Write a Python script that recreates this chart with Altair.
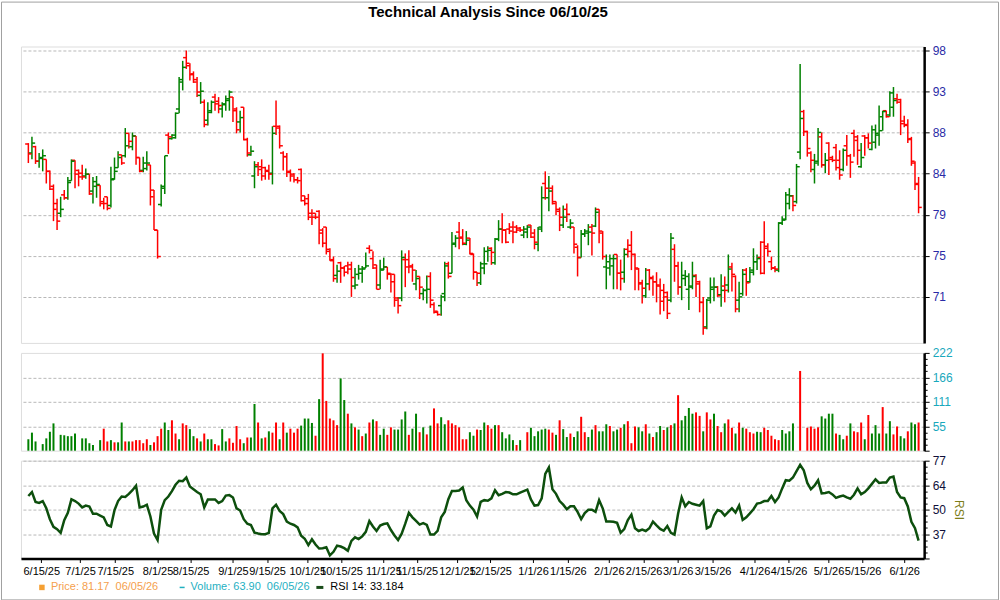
import altair as alt
import pandas as pd

# ---------------- data ----------------
opens = [
    86.8,85.8,86.5,84.9,85.3,85.1,83.8,82.2,80.4,79.4,
    81.3,81.0,82.8,85.0,83.9,83.6,83.3,83.5,81.7,82.2,
    82.3,80.6,81.1,80.2,83.0,84.2,85.6,85.5,88.0,86.5,
    87.7,85.3,83.9,84.1,84.5,81.8,77.7,80.3,82.0,87.8,
    87.4,87.5,
    90.8,94.0,97.0,96.0,95.0,94.3,92.4,91.6,89.5,90.6,
    92.2,91.7,90.8,91.3,92.0,92.2,90.8,89.3,91.0,87.3,
    85.6,83.3,84.5,84.3,84.2,83.8,83.6,88.8,88.8,85.8,
    85.4,83.8,83.5,82.9,84.0,81.2,80.9,79.4,79.4,79.6,
    77.7,78.0,
    75.6,74.8,73.3,74.5,74.0,74.2,74.3,72.3,73.4,73.5,
    74.0,75.9,74.9,74.3,72.4,73.8,74.1,73.4,73.4,71.2,
    71.2,74.8,74.8,74.2,72.5,73.2,71.6,71.9,73.2,70.6,
    70.0,70.5,71.6,74.4,73.5,76.4,77.5,77.0,76.3,76.9,
    75.3,73.6,72.6,74.0,75.6,75.9,74.5,76.8,77.8,77.7,
    77.8,78.0,78.0,77.9,77.2,77.5,78.2,77.4,76.3,78.0,
    82.5,81.0,82.0,80.6,79.6,78.2,79.8,78.0,78.0,76.0,
    75.0,77.3,77.4,78.0,78.1,79.8,77.4,74.1,74.0,74.2,
    75.3,73.5,
    73.6,75.8,76.2,75.3,73.9,72.6,71.4,73.8,73.1,72.7,
    72.3,71.9,71.3,71.0,75.8,74.2,72.2,73.0,72.0,72.2,
    73.3,72.7,70.8,68.6,71.2,72.0,72.2,71.5,72.3,72.4,
    74.1,73.2,71.0,71.6,73.8,72.7,73.8,74.6,75.0,76.5,
    76.1,
    74.6,74.0,73.8,78.4,78.8,80.4,81.2,80.6,85.9,90.5,
    88.2,85.8,84.0,84.9,87.6,84.5,86.9,85.3,86.4,85.0,
    84.0,86.6,85.5,88.0,87.2,84.3,87.7,87.5,86.2,87.0,
    87.8,89.9,90.6,90.1,91.0,92.0,91.9,89.4,88.9,87.4,
    84.7,82.5,
]
highs = [
    86.9,87.6,86.6,85.8,86.2,85.1,83.9,82.4,80.9,81.1,
    81.8,83.2,85.1,85.0,84.0,84.5,84.1,83.5,83.2,83.3,
    82.3,81.0,81.1,84.3,85.3,86.0,85.6,88.6,88.0,88.1,
    87.7,85.3,85.4,86.0,84.5,81.8,77.7,82.4,85.5,88.1,
    87.9,90.4,
    94.6,96.6,97.9,96.3,95.3,94.6,94.0,91.9,91.6,91.8,
    92.6,92.2,91.6,92.4,93.0,92.2,91.0,90.6,91.0,87.5,
    86.6,84.9,84.8,85.1,84.3,84.5,88.8,91.8,88.9,86.0,
    85.8,84.0,83.6,83.2,84.1,81.2,81.4,79.8,79.4,79.7,
    77.9,78.0,
    75.9,75.1,74.3,74.6,74.2,74.6,74.6,74.0,74.3,74.2,
    75.5,76.2,75.6,74.3,74.8,75.0,74.1,73.5,73.4,71.3,
    75.7,75.4,75.7,74.4,73.8,73.2,72.1,73.3,73.6,70.8,
    70.0,71.5,74.6,74.6,77.5,77.2,78.5,77.8,77.6,76.9,
    75.4,73.6,74.6,76.0,76.1,76.0,76.9,78.7,79.4,77.8,
    78.4,78.6,78.2,78.0,78.1,78.2,78.2,77.8,78.0,82.2,
    83.8,83.3,82.3,80.6,80.0,80.2,80.4,78.8,78.0,76.2,
    77.7,77.8,78.3,78.3,80.0,79.8,77.6,75.3,75.3,75.3,
    75.3,74.8,
    75.9,76.8,77.6,75.4,74.0,72.9,74.0,73.9,73.3,73.6,
    73.0,72.5,71.8,77.4,76.3,74.6,74.6,73.8,73.5,74.6,
    73.4,72.8,71.3,71.1,73.1,73.1,72.3,73.4,73.2,75.3,
    74.5,73.3,72.7,73.9,74.0,74.1,75.9,75.3,76.6,78.6,
    76.4,
    75.1,74.2,78.5,79.1,81.6,82.0,81.3,84.6,96.2,90.7,
    88.3,86.0,85.7,88.6,88.1,85.8,87.0,85.5,86.8,86.1,
    86.3,87.8,85.7,88.4,87.8,86.9,87.8,88.0,88.9,89.0,
    91.2,90.6,90.6,92.9,93.4,92.6,92.0,90.0,89.6,87.6,
    84.9,83.2,
]
lows = [
    84.7,85.1,84.6,84.2,83.8,82.5,81.8,78.6,77.7,79.0,
    80.8,80.8,82.8,82.0,82.2,82.9,83.0,81.3,80.4,81.0,
    80.1,79.8,79.7,80.0,82.9,84.2,84.5,85.3,86.3,86.1,
    84.5,83.7,83.7,83.9,80.2,77.7,74.9,80.1,81.4,85.7,
    87.3,87.4,
    90.3,93.0,95.6,94.2,93.9,92.2,91.4,88.7,88.9,90.3,
    90.6,90.3,89.8,90.6,90.6,89.3,88.0,88.1,87.2,85.4,
    85.5,82.0,83.3,82.8,82.9,82.9,82.4,87.8,86.3,83.9,
    83.2,82.7,82.6,82.5,80.6,80.2,78.7,78.2,78.8,76.3,
    76.0,75.3,
    74.7,72.7,72.6,72.6,73.2,73.4,71.3,72.0,72.9,72.6,
    74.0,75.4,73.9,72.0,72.0,73.8,72.9,71.7,70.4,69.8,
    70.9,72.2,73.5,72.7,71.9,71.1,71.0,70.7,70.3,69.8,
    69.6,69.6,70.9,73.0,73.5,76.0,75.8,76.2,76.2,75.3,
    72.9,72.3,72.4,73.4,74.6,74.3,74.3,76.6,76.4,76.4,
    77.3,76.4,77.4,77.5,76.9,76.9,76.9,75.8,75.6,77.5,
    80.8,79.6,80.3,79.2,77.6,77.9,78.5,77.8,75.4,73.2,
    75.0,77.0,76.2,75.2,78.0,76.4,74.8,72.0,73.3,72.0,
    72.0,71.9,
    72.6,75.0,73.8,71.9,71.9,70.7,71.2,71.9,71.4,70.8,
    69.7,70.0,69.3,70.8,72.7,71.5,71.0,72.3,70.1,72.0,
    71.3,69.9,67.9,68.4,70.7,70.9,71.3,70.4,70.8,71.7,
    71.8,69.9,69.9,71.4,71.4,72.6,73.3,73.8,73.4,73.4,
    75.1,
    73.8,73.6,73.6,78.2,78.7,79.8,79.6,80.4,85.1,87.7,
    85.4,83.7,82.5,84.4,84.2,83.6,83.4,84.8,83.9,82.9,
    83.8,84.4,83.1,85.4,84.5,84.2,85.5,86.3,86.1,86.3,
    86.6,88.3,89.8,89.9,89.9,91.4,87.8,88.7,86.9,84.4,
    81.8,79.4,
]
closes = [
    85.7,86.9,84.9,85.2,85.5,83.8,81.9,79.8,78.6,79.8,
    81.0,82.6,84.9,83.5,83.2,83.2,83.5,81.4,82.7,82.4,
    80.4,80.4,79.9,82.9,83.8,85.3,84.7,86.6,87.1,87.7,
    85.3,83.8,84.7,84.7,81.1,77.7,75.1,82.2,85.5,87.6,
    87.8,90.3,
    94.3,95.8,96.3,94.9,94.0,92.8,92.9,89.0,90.4,91.6,
    91.4,91.2,91.4,91.8,92.8,90.6,88.4,89.8,87.3,85.8,
    86.0,84.3,84.0,83.3,83.9,83.5,88.0,88.6,86.6,85.4,
    83.7,83.3,82.9,82.8,80.7,80.4,79.0,79.0,79.0,77.4,
    76.4,75.8,
    74.7,73.0,73.7,74.0,73.6,73.9,73.1,72.4,73.9,73.9,
    74.2,75.7,74.0,72.0,73.9,74.1,73.5,72.7,71.0,70.5,
    75.0,74.1,74.1,73.8,73.0,72.2,71.9,72.0,71.0,69.9,
    69.7,71.3,74.2,73.2,76.3,76.9,76.9,76.4,76.7,75.4,
    73.6,73.5,74.4,74.4,75.7,75.5,76.8,77.8,77.7,76.5,
    77.6,77.5,77.7,77.7,77.8,78.0,77.0,76.5,77.8,81.0,
    82.0,81.7,80.4,79.8,79.0,79.0,79.3,78.4,76.3,75.0,
    77.3,77.6,77.5,77.4,79.5,77.6,75.1,74.6,74.9,74.9,
    73.5,73.0,
    75.3,75.6,75.3,74.0,72.5,72.1,72.5,73.0,72.7,72.4,
    70.9,71.7,69.8,76.9,74.2,72.2,73.3,73.2,72.3,73.2,
    72.5,70.8,68.5,71.0,72.2,72.2,71.4,71.9,71.9,73.9,
    73.4,70.2,71.3,73.4,72.6,73.6,74.6,74.9,73.5,75.9,
    75.6,
    74.0,73.9,78.4,78.7,81.3,81.2,80.2,84.3,89.7,88.2,
    86.3,85.0,84.7,88.1,84.5,85.0,85.1,85.0,84.2,83.4,
    86.1,85.5,84.8,87.6,86.1,85.3,87.5,86.9,88.4,88.0,
    88.3,90.5,89.9,92.7,91.8,91.6,89.1,89.0,87.3,84.9,
    82.4,80.0,
]
volumes = [
    26,41,21,0,15,28,43,62,0,36, 35,33,33,39,0,28,28,17,13,0,
    24,50,21,24,19,19,64,21,21,21, 24,24,17,26,13,19,33,50,64,47,
    69,39,
    26,62,58,49,33,28,21,39, 26,26,15,12,49,21,28,18,56,26,
    17,30,30,106,64,28,30,44,41,64, 26,64,41,50,41,50,57,73,73,63,
    34,117,221,
    113,73,69,58,164,115,84, 62,53,48,33,39,64,71,67,36,50,
    36,53,48,48,71,89,36,50,84,42, 53,37,57,96,62,76,60,69,62,58,
    53,26,26,42,34,
    48,47,64,58,50, 58,58,42,28,37,24,13,24,0,42,
    52,33,44,48,50,48,41,36,69,49, 31,39,31,44,77,42,31,48,58,44,
    44,60,56,44,48,52,60,
    67,17,55, 53,44,60,39,31,42,56,47,53,58,
    62,126,69,79,97,84,87,79,44,87, 71,84,56,42,62,71,52,39,64,52,
    50,42,39,43,42,52,47,34,
    26,24, 47,39,44,62,0,181,0,52,55,50,
    53,78,73,84,84,39,36,26,34,62, 44,42,64,26,81,39,58,39,99,39,
    67,37,55,33,28,44,64,60,64,
]
volume_sides = (
    "GGGGGGGGGG" "GGGGGGGGGG" "GRRGRGGRGR" "RRRRGRRRGG" "RR"
    "GRRGGRGR" "GGRRGGRRRR" "GRGGRGRGRR" "GRGRRRGGGG" "RGR"
    "RRRRGGR" "GRGRGRGRGG" "RRGGGGRGGR" "GRGRRGGRRR" "RRRGG"
    "RGGRR" "GRGGGGRGGR" "GGGGGRRGRG" "GRGGRRGGRG" "GGRGGRG"
    "RRR" "GGRGRGGRGR" "GRGGGGRRGR" "RGRRGRRGRG" "RRRGGRRR"
    "RR" "GGGGGRRRRR" "RGGGGRGGRG" "RRRGRGGGRG" "GRRGGRGGR"
)
rsi = [
    57.8,60.0,54.5,54.0,55.0,51.0,45.0,40.8,39.5,37.5,
    44.5,48.5,56.0,55.0,53.6,51.5,52.5,52.0,48.0,48.0,
    47.0,46.0,41.8,41.0,50.0,55.0,57.5,57.3,59.0,61.0,
    63.5,51.5,52.0,53.0,46.5,37.1,33.5,50.2,55.5,57.5,
    60.5,64.0,
    66.2,66.0,68.0,63.0,61.5,60.0,58.8,51.5,55.9,55.9,
    55.9,54.0,55.0,58.0,58.3,57.0,51.0,49.8,45.0,42.5,
    41.8,37.6,37.1,36.7,36.7,37.4,51.0,53.0,49.5,47.8,
    43.7,42.5,41.8,40.5,35.8,34.2,30.7,33.9,31.0,28.8,
    29.0,29.5,
    25.0,27.0,30.4,29.9,29.0,27.6,33.0,35.0,34.0,35.5,
    38.0,44.0,41.0,38.5,41.5,42.3,42.7,39.0,36.0,33.5,
    37.0,42.5,48.5,46.0,44.0,42.0,42.8,41.8,36.5,36.5,
    38.5,46.0,49.0,56.0,60.6,60.6,60.8,62.5,55.5,52.5,
    50.2,
    46.5,54.5,55.5,55.2,56.5,61.0,58.2,59.0,60.0,59.7,
    58.7,58.7,59.7,60.5,61.3,55.9,52.5,52.8,56.5,70.0,
    73.5,61.5,59.0,55.0,53.0,50.5,52.1,52.1,49.0,45.0,
    48.4,50.2,50.2,49.0,55.5,51.0,43.7,43.7,43.6,43.0,
    37.5,39.5,
    44.5,47.5,40.0,38.5,39.3,38.5,40.0,43.7,41.6,39.6,
    38.6,41.2,37.5,36.5,48.0,57.0,52.1,54.5,53.5,53.0,
    52.5,55.0,40.0,41.0,47.0,50.0,49.3,47.0,49.0,51.0,
    48.7,52.5,44.6,46.0,48.2,50.5,53.6,54.0,55.0,55.0,
    57.8,
    54.5,57.0,62.0,66.5,66.2,68.0,71.5,75.0,72.0,65.0,
    61.5,63.5,66.5,59.3,59.5,60.0,58.7,56.8,57.5,58.0,
    57.0,56.3,58.5,62.0,58.7,60.0,62.0,64.5,67.0,65.0,
    65.3,65.3,68.0,68.5,60.0,57.0,56.6,52.0,43.5,40.0,
    33.2,
]
# x-axis tick positions (bar index) and their labels
date_tick_pos = [3.6, 14.4, 24.2, 36.0, 45.2, 57.0, 66.5, 77.7, 87.1, 98.9,
                 108.2, 119.4, 128.6, 140.6, 150.3, 161.7, 171.4, 180.9, 190.6,
                 202.3, 211.8, 222.9, 232.4, 244.0]
date_tick_labels = ["6/15/25", "7/1/25", "7/15/25", "8/1/25", "8/15/25", "9/1/25",
                    "9/15/25", "10/1/25", "10/15/25", "11/1/25", "11/15/25",
                    "12/1/25", "12/15/25", "1/1/26", "1/15/26", "2/1/26", "2/15/26",
                    "3/1/26", "3/15/26", "4/1/26", "4/15/26", "5/1/26", "5/15/26",
                    "6/1/26"]
price_ticks = [71.3, 75.17, 79.25, 83.55, 88.08, 92.86, 97.9]
title_text = "Technical Analysis Since 06/10/25"
legend_price = "Price: 81.17\u00a0\u00a006/05/26"
legend_volume = "Volume: 63.90\u00a0\u00a006/05/26"
legend_rsi = "RSI 14: 33.184"

# ---------------- build table ----------------
lens = [len(opens), len(highs), len(lows), len(closes), len(volumes), len(volume_sides), len(rsi)]
n = min(lens)
df = pd.DataFrame({
    "i": list(range(n)),
    "o": opens[:n], "h": highs[:n], "l": lows[:n], "c": closes[:n],
    "v": volumes[:n], "vs": list(volume_sides[:n]), "rsi": rsi[:n],
})
df["dir"] = ["up" if c >= o else "down" for o, c in zip(df["o"], df["c"])]
df["v0"] = 0.0
vol_df = df[df["v"] > 0]

FONT = "Liberation Sans"
W = 905
xscale = alt.Scale(domain=[-2.06, 249.55], nice=False, zero=False)
Xh = alt.X("i:Q", scale=xscale, axis=None)
pcolor = alt.Color("dir:N", scale=alt.Scale(domain=["up", "down"], range=["#008000", "#ff0000"]), legend=None)

# ---------------- price panel ----------------
pscale = alt.Scale(type="log", domain=[67.2, 98.4], nice=False, zero=False)
paxis = alt.Axis(orient="right", values=price_ticks, labelExpr="format(datum.value, '.0f')",
                 grid=True, gridDash=[3, 2], gridColor="#b8b8b8", gridWidth=1,
                 domainColor="#000000", domainWidth=2.5, tickColor="#000000", tickSize=5,
                 labelColor="#2a2aa6", labelFontSize=12, labelFont=FONT, labelPadding=3,
                 title=None)
pbase = alt.Chart(df)
hl = pbase.mark_rule(strokeWidth=1.5).encode(
    x=Xh, y=alt.Y("l:Q", scale=pscale, axis=paxis), y2="h:Q", color=pcolor)
op = pbase.mark_rule(strokeWidth=1.5, xOffset=-3.2, x2Offset=0).encode(
    x=Xh, x2="i:Q", y=alt.Y("o:Q", scale=pscale), color=pcolor)
cl = pbase.mark_rule(strokeWidth=1.5, xOffset=0, x2Offset=3.2).encode(
    x=Xh, x2="i:Q", y=alt.Y("c:Q", scale=pscale), color=pcolor)

one = pd.DataFrame({"a": [0]})
border = alt.Chart(one).mark_rect(fill="#ffffff", fillOpacity=0, stroke="#a0a0a0", strokeWidth=1).encode(
    x=alt.value(-19.5), x2=alt.value(979.5), y=alt.value(-44.5), y2=alt.value(554.5))
title_mark = alt.Chart(one).mark_text(text=title_text, font=FONT, fontSize=15, fontWeight="bold",
                                      color="#000000", align="center", baseline="middle").encode(
    x=alt.value(468), y=alt.value(-35))
extra = []
if len(set(lens)) != 1:
    extra.append(alt.Chart(one).mark_text(text="LENGTHS " + str(lens), color="magenta", fontSize=20).encode(
        x=alt.value(400), y=alt.value(150)))
price = alt.layer(border, hl, op, cl, title_mark, *extra).properties(width=W, height=297)

# ---------------- volume panel ----------------
vmajor = "abs(datum.value/55.5 - round(datum.value/55.5)) < 0.01"
vol_ticks = [13.875 * k for k in range(17)]
vscale = alt.Scale(domain=[0, 222], nice=False, zero=True)
vaxis = alt.Axis(orient="right", values=vol_ticks,
                 labelExpr=f"({vmajor}) && datum.value > 1 ? floor(datum.value) : ''",
                 labelOverlap=False,
                 grid=True, gridDash=[3, 2], gridColor="#b8b8b8",
                 gridOpacity={"condition": {"test": f"({vmajor}) && datum.value > 1 && datum.value < 220", "value": 1}, "value": 0},
                 tickSize={"condition": {"test": vmajor, "value": 5}, "value": 3},
                 domainColor="#000000", domainWidth=2.5, tickColor="#000000",
                 labelColor="#18a8bc", labelFontSize=12, labelFont=FONT, labelPadding=3, title=None)
vbars = alt.Chart(vol_df).mark_rule(strokeWidth=2).encode(
    x=Xh, y=alt.Y("v:Q", scale=vscale, axis=vaxis), y2="v0:Q",
    color=alt.Color("vs:N", scale=alt.Scale(domain=["G", "R"], range=["#22aa3a", "#ff2200"]), legend=None))
volume = alt.layer(vbars).properties(width=W, height=98)

# ---------------- RSI panel ----------------
rmajor = "abs((datum.value-23.3)/13.5 - round((datum.value-23.3)/13.5)) < 0.01"
rsi_ticks = [23.3 + 3.375 * k for k in range(17)]
rscale = alt.Scale(domain=[23.3, 77.3], nice=False, zero=False)
raxis = alt.Axis(orient="right", values=rsi_ticks,
                 labelExpr=f"({rmajor}) && datum.value > 25 ? round(datum.value) : ''",
                 labelOverlap=False,
                 grid=True, gridDash=[3, 2], gridColor="#b8b8b8",
                 gridOpacity={"condition": {"test": f"({rmajor}) && datum.value > 25", "value": 1}, "value": 0},
                 tickSize={"condition": {"test": rmajor, "value": 5}, "value": 3},
                 domainColor="#000000", domainWidth=2.5, tickColor="#000000",
                 labelColor="#10103a", labelFontSize=12, labelFont=FONT, labelPadding=3,
                 title="RSI", titleAngle=90, titleColor="#7d7d18", titleFont=FONT,
                 titleFontSize=12, titleFontWeight="normal", titlePadding=6)
xaxis = alt.Axis(values=date_tick_pos,
                 labelExpr="[" + ",".join("'" + s + "'" for s in date_tick_labels) + "][indexof(["
                           + ",".join(str(p) for p in date_tick_pos) + "], datum.value)]",
                 labelOverlap=False, labelFlush=False, labelBound=False, grid=False,
                 domainColor="#000000", domainWidth=2.5, tickColor="#000000", tickSize=4,
                 labelColor="#000000", labelFontSize=11, labelFont=FONT, labelPadding=3, title=None)
rline = alt.Chart(df).mark_line(color="#0d4f0d", strokeWidth=2.5).encode(
    x=alt.X("i:Q", scale=xscale, axis=xaxis), y=alt.Y("rsi:Q", scale=rscale, axis=raxis))

LY = 127
leg_sq = alt.Chart(one).mark_square(size=30, color="#f5a033", opacity=1).encode(
    x=alt.value(21), y=alt.value(LY))
leg_p = alt.Chart(one).mark_text(text=legend_price, font=FONT, fontSize=11, color="#f5a04c",
                                 align="left", baseline="middle").encode(x=alt.value(30), y=alt.value(LY))
leg_vm = alt.Chart(one).mark_rule(color="#20b0c0", strokeWidth=1.5).encode(
    x=alt.value(159), x2=alt.value(164), y=alt.value(LY))
leg_v = alt.Chart(one).mark_text(text=legend_volume, font=FONT, fontSize=11, color="#1fb0c2",
                                 align="left", baseline="middle").encode(x=alt.value(170), y=alt.value(LY))
leg_rm = alt.Chart(one).mark_rule(color="#1a4d1a", strokeWidth=3).encode(
    x=alt.value(296), x2=alt.value(303), y=alt.value(LY))
leg_r = alt.Chart(one).mark_text(text=legend_rsi, font=FONT, fontSize=11, color="#000000",
                                 align="left", baseline="middle").encode(x=alt.value(310), y=alt.value(LY))
rsi_panel = alt.layer(rline, leg_sq, leg_p, leg_vm, leg_v, leg_rm, leg_r).properties(width=W, height=98)

chart = alt.vconcat(price, volume, rsi_panel, spacing=10, bounds="flush").properties(
    padding=0, background="#ffffff"
).configure_view(stroke=None).configure(font=FONT)

chart.save("out.html", embed_options={"renderer": "svg", "actions": False})
